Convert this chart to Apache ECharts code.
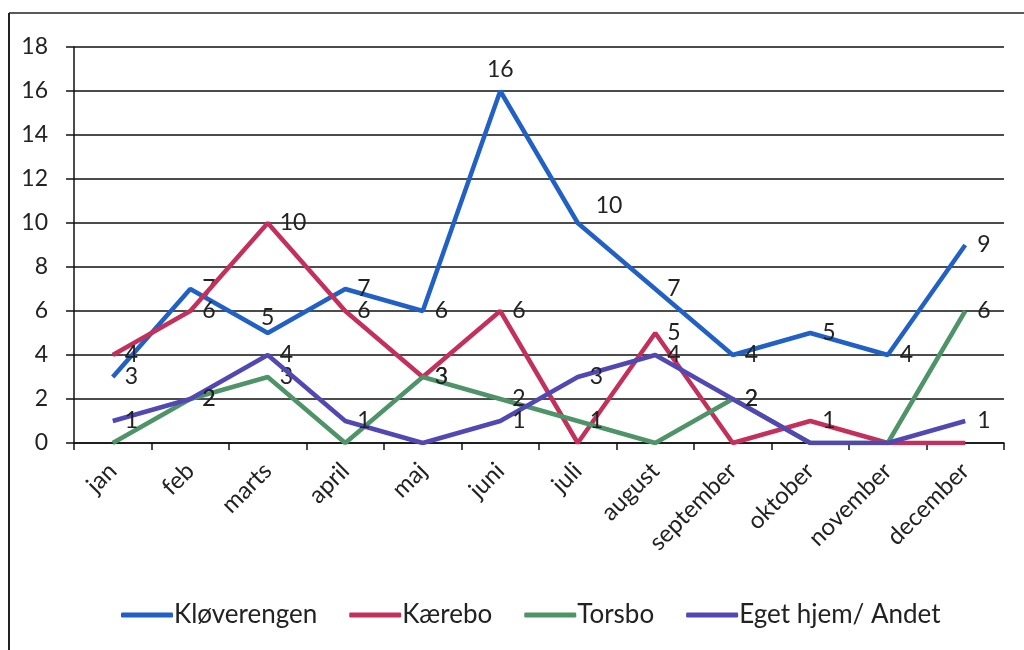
<!DOCTYPE html>
<html>
<head>
<meta charset="utf-8">
<script src="https://cdn.jsdelivr.net/npm/echarts@6/dist/echarts.min.js"></script>
<style>
html,body{margin:0;padding:0;background:#fff;}
#chart{width:1024px;height:650px;}
</style>
</head>
<body>
<div id="chart"></div>
<script>
const months = ['jan','feb','marts','april','maj','juni','juli','august','september','oktober','november','december'];
const seriesNames = ['Kløverengen','Kærebo','Torsbo','Eget hjem/ Andet'];
const kloverengen = [3,7,5,7,6,16,10,7,4,5,4,9];
const kaerebo = [4,6,10,6,3,6,0,5,0,1,0,0];
const torsbo = [0,2,3,0,3,2,1,0,2,0,0,6];
const egetHjem = [1,2,4,1,0,1,3,4,2,0,0,1];
const yTicks = [0,2,4,6,8,10,12,14,16,18];

const colors = ['#2160c4','#c4305c','#4f9468','#5148b4'];
const FONT = 'Lato, "Open Sans", sans-serif';

function makeData(arr, overrides) {
  return arr.map((v, i) => {
    const o = { value: v };
    if (overrides && overrides[i]) o.label = overrides[i];
    return o;
  });
}

const labelBase = {
  show: true,
  position: 'right',
  distance: 12,
  fontSize: 23,
  fontFamily: FONT,
  color: '#222',
  formatter: p => (p.value === 0 ? '' : String(p.value))
};

const chart = echarts.init(document.getElementById('chart'));
const dataSets = [kloverengen, kaerebo, torsbo, egetHjem];
const overridesList = [
  {2: {position: 'top', distance: 4}, 5: {position: 'top', distance: 10}, 6: {position: [18, -29]}},
  {},
  {},
  {}
];

chart.setOption({
  animation: false,
  color: colors,
  grid: { left: 74, right: 20, top: 47, bottom: 207, containLabel: false },
  xAxis: {
    type: 'category',
    data: months,
    boundaryGap: true,
    axisLine: { show: true, lineStyle: { color: '#111', width: 1.5 } },
    axisTick: { show: true, length: 7, lineStyle: { color: '#111', width: 1.5 } },
    axisLabel: { rotate: 45, fontSize: 24, fontFamily: FONT, color: '#222', margin: 24, interval: 0 }
  },
  yAxis: {
    type: 'value',
    min: yTicks[0],
    max: yTicks[yTicks.length - 1],
    interval: 2,
    axisLine: { show: true, lineStyle: { color: '#111', width: 1.5 } },
    axisTick: { show: true, length: 8, lineStyle: { color: '#111', width: 1.5 } },
    axisLabel: { fontSize: 23, fontFamily: FONT, color: '#222', margin: 26 },
    splitLine: { show: true, lineStyle: { color: '#111', width: 1.5 } }
  },
  legend: {
    bottom: 17,
    left: 116,
    itemWidth: 52,
    itemHeight: 5,
    itemGap: 32,
    icon: 'roundRect',
    textStyle: { fontSize: 26, fontFamily: FONT, color: '#222', padding: [0, 0, 0, -4] },
    data: seriesNames
  },
  graphic: [
    { type: 'line', shape: { x1: 9, y1: 13, x2: 9, y2: 650 }, style: { stroke: '#222', lineWidth: 2 } },
    { type: 'line', shape: { x1: 9, y1: 13, x2: 1024, y2: 13 }, style: { stroke: '#222', lineWidth: 1.5 } }
  ],
  series: dataSets.map((arr, k) => ({
    name: seriesNames[k],
    type: 'line',
    data: makeData(arr, overridesList[k]),
    symbol: 'circle',
    symbolSize: 0.01,
    showSymbol: true,
    lineStyle: { width: 4.5, color: colors[k] },
    itemStyle: { color: colors[k] },
    label: labelBase,
    z: 2 + k
  }))
});
</script>
</body>
</html>
